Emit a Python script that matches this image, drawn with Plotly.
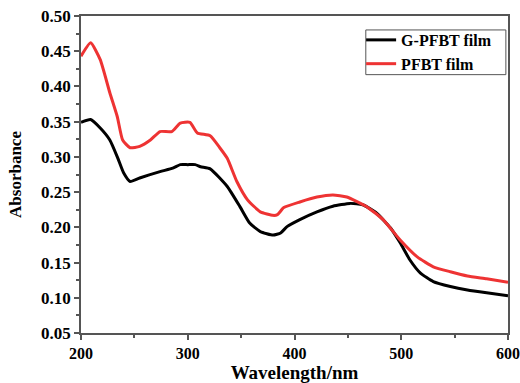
import plotly.graph_objects as go

# G-PFBT film (black)
g_x = [200, 209, 218, 227, 234, 240, 246, 255, 274, 286, 293, 300, 307, 312, 321, 337, 349, 358, 368, 380, 387, 393, 405, 421, 436, 452, 464, 477, 490, 499, 508, 518, 530, 546, 562, 580, 600]
g_y = [0.349, 0.353, 0.341, 0.324, 0.300, 0.277, 0.265, 0.270, 0.279, 0.284, 0.289, 0.289, 0.289, 0.286, 0.283, 0.258, 0.229, 0.206, 0.194, 0.189, 0.192, 0.201, 0.211, 0.222, 0.230, 0.234, 0.232, 0.220, 0.199, 0.178, 0.154, 0.135, 0.123, 0.116, 0.111, 0.107, 0.103]

# PFBT film (red)
p_x = [200, 209, 218, 227, 234, 239, 246, 255, 265, 274, 285, 293, 302, 309, 321, 330, 337, 346, 356, 368, 380, 384, 390, 405, 421, 436, 449, 468, 483, 499, 515, 530, 546, 562, 580, 600]
p_y = [0.443, 0.462, 0.438, 0.391, 0.357, 0.324, 0.313, 0.315, 0.324, 0.336, 0.336, 0.348, 0.349, 0.334, 0.330, 0.313, 0.298, 0.265, 0.239, 0.222, 0.217, 0.218, 0.228, 0.236, 0.243, 0.246, 0.243, 0.229, 0.211, 0.182, 0.158, 0.144, 0.137, 0.131, 0.127, 0.122]

x_ticks = [200, 300, 400, 500, 600]
y_ticks = [0.05, 0.10, 0.15, 0.20, 0.25, 0.30, 0.35, 0.40, 0.45, 0.50]

FONT = "Liberation Serif"
AX = "#555555"

fig = go.Figure()
fig.add_trace(go.Scatter(x=g_x, y=g_y, mode="lines", name="G-PFBT film",
                         line=dict(color="black", width=3, shape="spline", smoothing=0.5)))
fig.add_trace(go.Scatter(x=p_x, y=p_y, mode="lines", name="PFBT film",
                         line=dict(color="#ee3333", width=3, shape="spline", smoothing=0.5)))

# legend frame
fig.add_shape(type="rect", xref="paper", yref="paper",
              x0=0.667, x1=0.995, y0=0.815, y1=0.956,
              line=dict(color=AX, width=1), fillcolor="white", layer="above")

fig.update_layout(
    width=520, height=383,
    margin=dict(l=81, r=12, t=16, b=50, autoexpand=False),
    paper_bgcolor="white", plot_bgcolor="white",
    font=dict(family=FONT, size=14, color="black"),
    showlegend=True,
    legend=dict(x=0.656, y=0.978, xanchor="left", yanchor="top",
                bgcolor="rgba(0,0,0,0)", borderwidth=0,
                font=dict(family=FONT, size=16, color="black", weight="bold"),
                itemwidth=30, tracegroupgap=0),
)
fig.update_xaxes(
    range=[200, 600], tickvals=x_ticks, ticktext=[str(v) for v in x_ticks],
    showline=True, linecolor=AX, linewidth=1.5, mirror=True,
    ticks="outside", ticklen=5, tickcolor=AX, tickwidth=1.5,
    minor=dict(dtick=50, ticks="outside", ticklen=3, tickcolor=AX, tickwidth=1.5),
    showgrid=False, zeroline=False, automargin=False, ticklabeloverflow="allow",
    tickfont=dict(family=FONT, size=16, color="black", weight="bold"),
    title=dict(text="Wavelength/nm", font=dict(family=FONT, size=19, color="black", weight="bold"), standoff=9),
)
fig.update_yaxes(
    range=[0.05, 0.50], tickvals=y_ticks, ticktext=["%.2f" % v for v in y_ticks],
    showline=True, linecolor=AX, linewidth=1.5, mirror=True,
    ticks="outside", ticklen=5, tickcolor=AX, tickwidth=1.5,
    minor=dict(dtick=0.025, ticks="outside", ticklen=3, tickcolor=AX, tickwidth=1.5),
    showgrid=False, zeroline=False, automargin=False,
    tickfont=dict(family=FONT, size=17, color="black", weight="bold"),
    title=dict(text="Absorbance", font=dict(family=FONT, size=17, color="black", weight="bold")),
)

fig.write_html("out.html")
